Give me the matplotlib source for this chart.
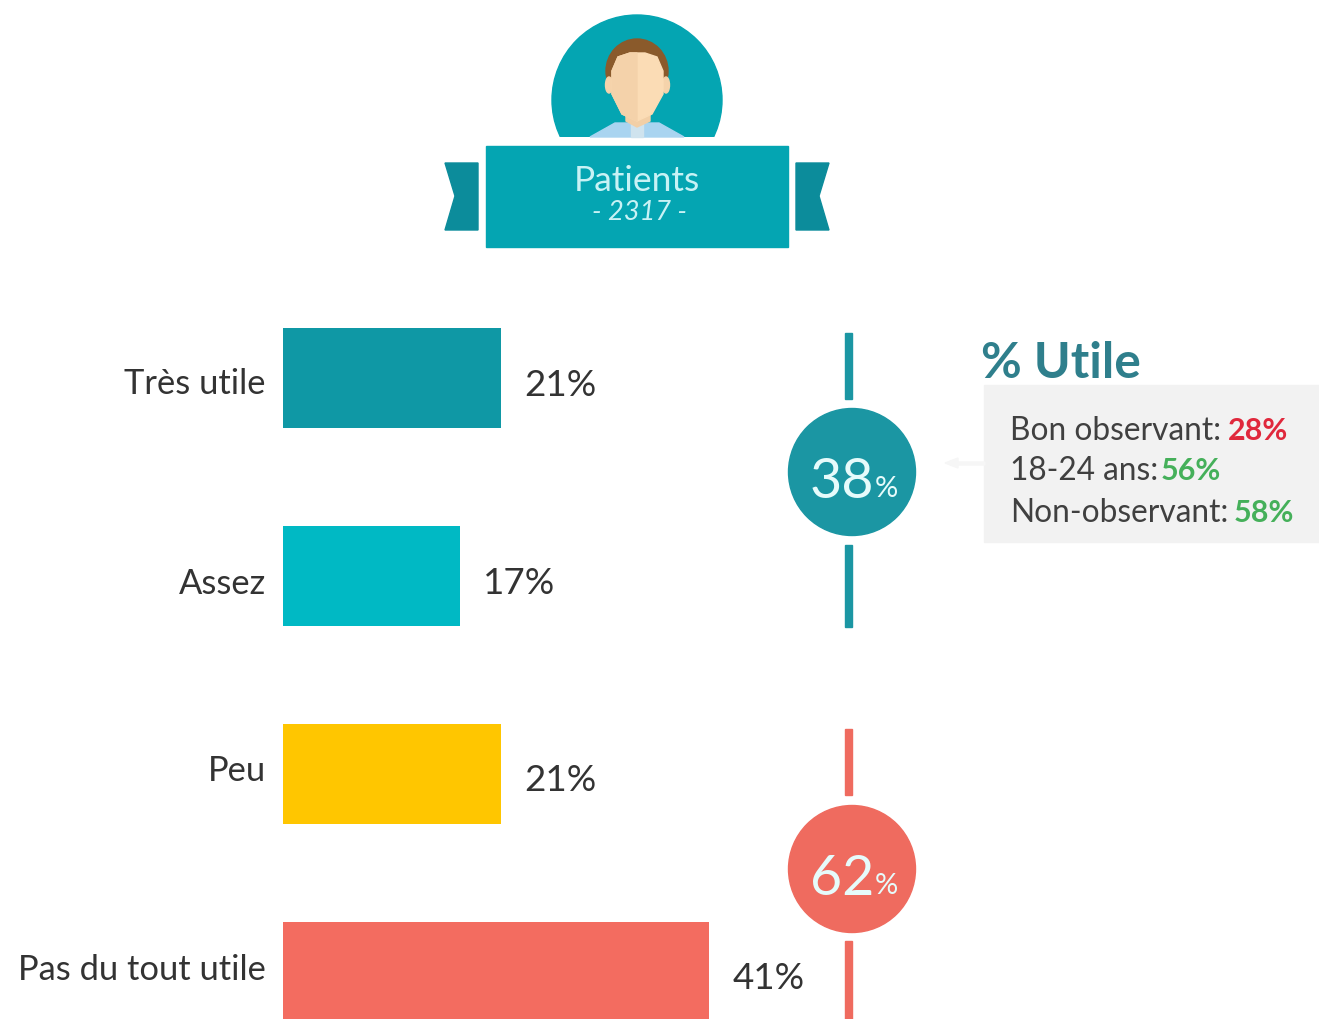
import matplotlib
matplotlib.use('Agg')
import matplotlib.pyplot as plt
from matplotlib.patches import Circle, Ellipse, Polygon, Rectangle

plt.rcParams['font.family'] = ['Lato', 'DejaVu Sans']

categories = ['Très utile', 'Assez', 'Peu', 'Pas du tout utile']
values = [21, 17, 21, 41]
bar_colors = ['#0f98a5', '#00b9c4', '#ffc600', '#f36c60']
group_totals = [38, 62]
group_colors = ['#1b96a3', '#ef6b5f']
detail_labels = ['Bon observant:', '18-24 ans:', 'Non-observant:']
detail_values = ['28%', '56%', '58%']
detail_colors = ['#e0283c', '#45b05a', '#45b05a']
banner_title = 'Patients'
banner_count = '- 2317 -'

TEAL = '#04a5b2'
DARK_TEAL = '#0c8c9b'
TEXT = '#333333'
W, H = 1319, 1020

fig = plt.figure(figsize=(W / 100, H / 100), dpi=100)

# pixel coordinate layer for the decoration
ax = fig.add_axes([0, 0, 1, 1])
ax.set_xlim(0, W)
ax.set_ylim(H, 0)
ax.axis('off')

# bars get their own axes, 10.4 px per percent, 198 px per row
bars = fig.add_axes([283 / W, 0, (W - 283) / W, (H - 279) / H])
bars.set_xlim(0, (W - 283) / 10.4)
bars.set_ylim((H - 379) / 198, (279 - 379) / 198)
bars.axis('off')
bars.barh(range(len(values)), values, height=100 / 198, color=bar_colors)

# labels
cat_y = [384, 584, 771, 970]
val_y = [386, 584, 781, 979]
for cat, val, cy, vy in zip(categories, values, cat_y, val_y):
    ax.text(266, cy, cat, ha='right', va='center', fontsize=24.8, color=TEXT)
    ax.text(283 + val * 10.4 + 23, vy, f'{val}%', ha='left', va='center', fontsize=26.5, color=TEXT)

# head badge
disc = Circle((637, 101), 85, color=TEAL, zorder=2)
ax.add_patch(disc)
disc.set_clip_path(Rectangle((500, 0), 280, 138, transform=ax.transData))
ax.add_patch(Polygon([(590, 138), (615, 124), (659, 124), (684, 138)], color='#a9d4f0', zorder=3))
ax.add_patch(Rectangle((631, 124), 12, 14, color='#cfe3ee', zorder=3))
ax.add_patch(Polygon([(626, 100), (650, 100), (650, 122), (637, 128), (626, 122)], color='#f2cfa6', zorder=3))
ax.add_patch(Ellipse((637, 72), 62, 64, color='#8a5a2b', zorder=4))
ax.add_patch(Ellipse((609, 86), 7, 16, color='#f5d3ab', zorder=4))
ax.add_patch(Ellipse((666, 86), 7, 16, color='#f5d3ab', zorder=4))
face = Polygon([(612, 72), (618, 58), (630, 54), (645, 54), (657, 58), (663, 72), (663, 95), (652, 115),
                (637, 122), (622, 115), (612, 95)], color='#fbdcb5', zorder=5)
ax.add_patch(face)
half_face = Polygon([(612, 72), (618, 58), (630, 54), (637, 54), (637, 122), (622, 115), (612, 95)],
                    color='#f4d2aa', zorder=5)
ax.add_patch(half_face)

# banner
ax.add_patch(Rectangle((486, 147), 302, 101, color=TEAL, zorder=3))
ax.add_patch(Polygon([(445, 164), (478, 164), (478, 231), (445, 231), (455, 197)], color=DARK_TEAL))
ax.add_patch(Polygon([(796, 164), (829, 164), (819, 197), (829, 231), (796, 231)], color=DARK_TEAL))
ax.text(637, 181, banner_title, ha='center', va='center', fontsize=25.5, color='#c8f2f5', zorder=4)
ax.text(640, 212, banner_count, ha='center', va='center', fontsize=19.6, style='italic', color='#c8f2f5', zorder=4)

# group circles with their vertical strokes
line_spans = [[(334, 400), (546, 628)], [(730, 796), (942, 1020)]]
circle_y = [473, 870]
for total, col, spans, cy in zip(group_totals, group_colors, line_spans, circle_y):
    for top, bottom in spans:
        ax.add_patch(Rectangle((845, top), 7, bottom - top, color=col, zorder=2))
    ax.add_patch(Circle((852, cy), 63.5, color=col, zorder=3))
    ax.text(842, cy + 10, str(total), ha='center', va='center', fontsize=40, color='#e6fbfb', zorder=4)
    ax.text(886, cy + 16, '%', ha='center', va='center', fontsize=21, color='#e6fbfb', zorder=4)

# detail panel
ax.text(981, 364, '% Utile', ha='left', va='center', fontsize=35.8, fontweight='bold', color='#2f7f8c')
ax.add_patch(Rectangle((984, 386), 335, 157, color='#f2f2f2', zorder=1))
ax.add_patch(Polygon([(945, 464), (958, 459), (958, 463), (985, 463), (985, 466), (958, 466), (958, 469)],
                     color='#f6f6f6', zorder=1))
detail_y = [431, 471, 513]
value_x = [1228, 1161, 1234]
for lab, val, col, y, x in zip(detail_labels, detail_values, detail_colors, detail_y, value_x):
    ax.text(1010, y, lab, ha='left', va='center', fontsize=22.8, color='#404040', zorder=2)
    ax.text(x, y, val, ha='left', va='center', fontsize=22, fontweight='bold', color=col, zorder=2)

fig.savefig('out.png', dpi=100)
